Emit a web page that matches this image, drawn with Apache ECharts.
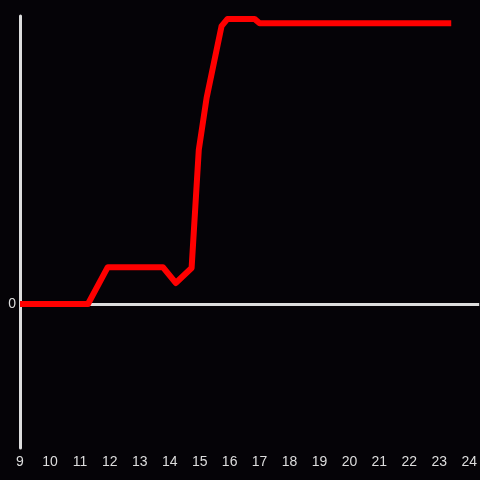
<!DOCTYPE html>
<html>
<head>
<meta charset="utf-8">
<script src="https://cdn.jsdelivr.net/npm/echarts@6/dist/echarts.min.js"></script>
<style>
    html, body { margin: 0; padding: 0; background: #050307; }
    #chart { width: 480px; height: 480px; }
</style>
</head>
<body>
<div id="chart"></div>
<script>
// hours on the x axis
const hours = [9, 11.27, 11.93, 13.77, 14.2, 14.73, 14.97, 15.23, 15.73, 15.93, 16.83, 17.0, 23.4]
const values = [0, 0, 0.256, 0.256, 0.146, 0.25, 1.07, 1.43, 1.93, 1.98, 1.98, 1.95, 1.95]
const yTicks = ['0']

const lineData = []
for (let i = 0; i < hours.length; i++) {
    lineData.push([hours[i], values[i]])
}

const chart = echarts.init(document.getElementById('chart'))
const option = {
    backgroundColor: '#050307',
    animation: false,
    grid: { left: 20, right: 0, top: 16, bottom: 32 },
    xAxis: {
        type: 'value',
        min: 9,
        max: 24.333,
        interval: 1,
        axisLine: { show: false, onZero: false },
        axisTick: { show: false },
        splitLine: { show: false },
        axisLabel: {
            color: '#dddddd',
            fontSize: 14,
            margin: 7,
            showMaxLabel: false
        }
    },
    yAxis: {
        type: 'value',
        min: -1,
        max: 2,
        interval: 1,
        axisLine: { show: true, lineStyle: { color: '#dddddd', width: 3 } },
        axisTick: { show: false },
        splitLine: { show: false },
        axisLabel: {
            color: '#dddddd',
            fontSize: 14,
            margin: 4,
            formatter: function (v) { return yTicks.indexOf(String(v)) >= 0 ? String(v) : '' }
        }
    },
    series: [
        {
            type: 'line',
            data: lineData,
            showSymbol: false,
            lineStyle: { color: '#ff0000', width: 6, join: 'round' },
            markLine: {
                silent: true,
                symbol: 'none',
                label: { show: false },
                lineStyle: { color: '#dddddd', width: 3, type: 'solid' },
                data: [{ yAxis: 0 }],
                z: 1
            },
            z: 3
        }
    ]
}
chart.setOption(option)
</script>
</body>
</html>
